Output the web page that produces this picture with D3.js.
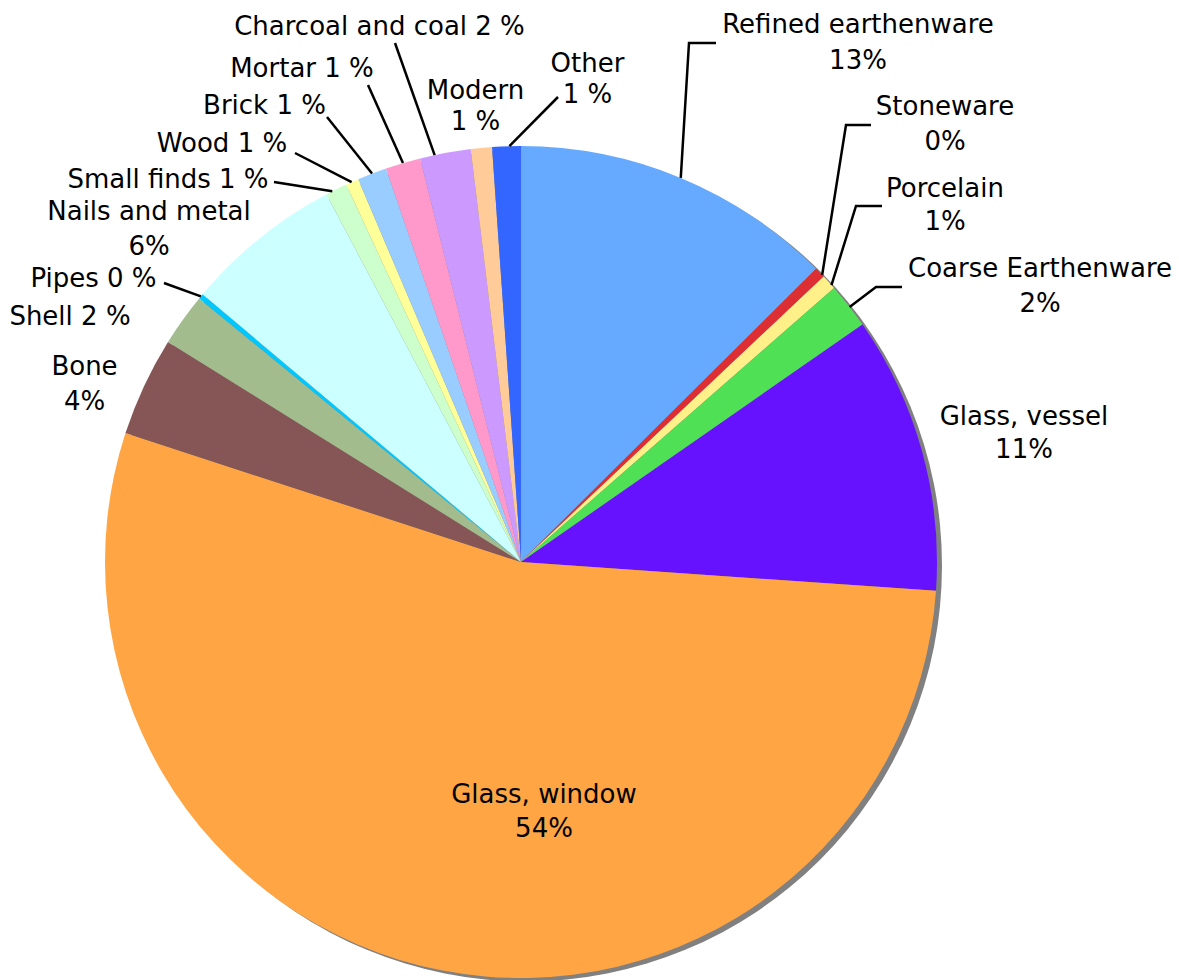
<!DOCTYPE html>
<html>
<head>
<meta charset="utf-8">
<script src="https://cdn.jsdelivr.net/npm/d3@7/dist/d3.min.js"></script>
<style>
  html, body { margin: 0; padding: 0; background: #ffffff; }
  svg { display: block; }
  text { font-family: "DejaVu Sans", Verdana, sans-serif; font-size: 26px; fill: #000; }
</style>
</head>
<body>
<svg id="chart" width="1179" height="980"></svg>
<script>
// Artifact classes, clockwise from 12 o'clock
const categories = [
  "Refined earthenware", "Stoneware", "Porcelain", "Coarse Earthenware",
  "Glass, vessel", "Glass, window", "Bone", "Shell", "Pipes",
  "Nails and metal", "Small finds", "Wood", "Brick", "Mortar",
  "Charcoal and coal", "Modern", "Other"
];

// Share of the assemblage, percent
const shares = [
  12.55, 0.42, 0.59, 1.77,
  10.78, 53.92, 3.86, 2.05, 0.20,
  6.13, 0.85, 0.50, 1.14, 1.36,
  1.97, 0.82, 1.11
];

const palette = [
  "#66aaff", "#dd2e33", "#fff08a", "#50e055",
  "#6612ff", "#ffa544", "#865656", "#a2bc8e", "#00c8ff",
  "#ccffff", "#ccffcc", "#ffff99", "#99ccff", "#ff99cc",
  "#cc99ff", "#ffcc99", "#3366ff"
];

// Label placement: text centre x, baselines, format, optional leader line
// fmt: "two" -> name / n%, "twoSp" -> name / n %, "one" -> name n %
const labelLayout = [
  { x: 858,  y: [33, 69],   fmt: "two",   lead: [[716, 43], [689, 43]],   t: 0.5 },
  { x: 945,  y: [115, 150], fmt: "two",   lead: [[871, 125], [846, 125]], t: 0.8 },
  { x: 945,  y: [197, 230], fmt: "two",   lead: [[882, 206], [856, 206]], t: 0.75 },
  { x: 1040, y: [277, 312], fmt: "two",   lead: [[902, 287], [876, 287]], t: 0.53 },
  { x: 1024, y: [425, 458], fmt: "two" },
  { x: 544,  y: [803, 837], fmt: "two" },
  { x: 84.5, y: [375, 410], fmt: "two" },
  { x: 70,   y: [325],      fmt: "one" },
  { x: 93.5, y: [287],      fmt: "one",   lead: [[164, 283]], t: 0.5 },
  { x: 149,  y: [220, 255], fmt: "two" },
  { x: 168,  y: [188],      fmt: "one",   lead: [[274, 182]], t: 0.3 },
  { x: 222,  y: [152],      fmt: "one",   lead: [[295, 153]], t: 0.45 },
  { x: 264.5,y: [114],      fmt: "one",   lead: [[327, 117]], t: 0.5 },
  { x: 302,  y: [77],       fmt: "one",   lead: [[368, 85]],  t: 0.5 },
  { x: 379.5,y: [35],       fmt: "one",   lead: [[395, 43]],  t: 0.29 },
  { x: 475.5,y: [99, 130],  fmt: "twoSp" },
  { x: 587.5,y: [72, 103],  fmt: "twoSp", lead: [[558, 97]],  t: 0.6 }
];

const cx = 521, cy = 562, R = 416;
const svg = d3.select("#chart");

const rows = categories.map((name, i) => ({ name, value: shares[i], color: palette[i], layout: labelLayout[i] }));

const pie = d3.pie().sort(null).value(d => d.value).startAngle(0).endAngle(2 * Math.PI);
const arcs = pie(rows);
const arc = d3.arc().innerRadius(0).outerRadius(R);

const g = svg.append("g").attr("transform", `translate(${cx},${cy})`);

// drop shadow under the pie
g.append("circle")
  .attr("cx", 5).attr("cy", 3.5).attr("r", R)
  .attr("fill", "#808080");

g.selectAll("path.slice")
  .data(arcs)
  .enter().append("path")
  .attr("class", "slice")
  .attr("d", arc)
  .attr("fill", d => d.data.color);

// leader lines from the label to the slice rim
const rim = a => [cx + R * Math.sin(a), cy - R * Math.cos(a)];
const line = d3.line();
svg.selectAll("path.leader")
  .data(arcs.filter(d => d.data.layout.lead))
  .enter().append("path")
  .attr("class", "leader")
  .attr("fill", "none")
  .attr("stroke", "#000")
  .attr("stroke-width", 2.5)
  .attr("d", d => {
    const L = d.data.layout;
    const a = d.startAngle + (d.endAngle - d.startAngle) * L.t;
    return line(L.lead.concat([rim(a)]));
  });

// labels
const pct = v => Math.round(v);
arcs.forEach(d => {
  const L = d.data.layout;
  const n = pct(d.data.value);
  let lines;
  if (L.fmt === "one") lines = [`${d.data.name} ${n} %`];
  else if (L.fmt === "twoSp") lines = [d.data.name, `${n} %`];
  else lines = [d.data.name, `${n}%`];
  const t = svg.append("text").attr("text-anchor", "middle");
  lines.forEach((s, k) => {
    t.append("tspan").attr("x", L.x).attr("y", L.y[k]).text(s);
  });
});
</script>
</body>
</html>
